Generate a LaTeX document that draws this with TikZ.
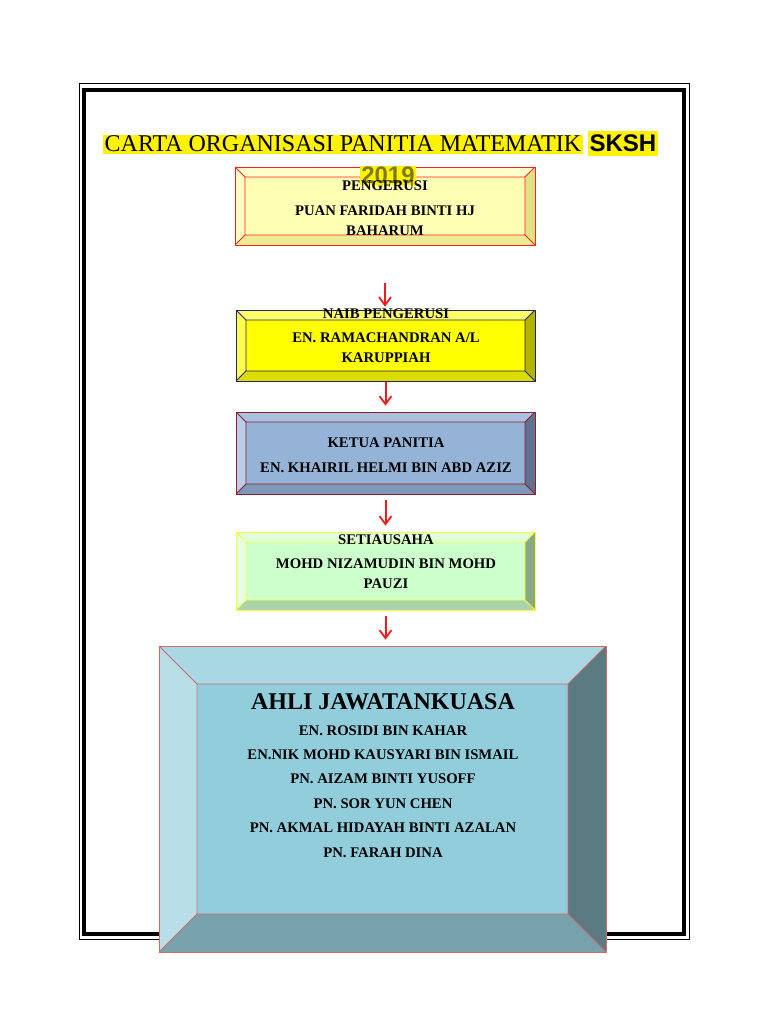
\documentclass[tikz,border=0pt]{standalone}
\usepackage{fontspec}
\setmainfont{Liberation Serif}
\newfontfamily\arialfont{Liberation Sans}
\usetikzlibrary{arrows.meta, positioning, calc}
% one set of bevel colours for each box: top, left, right, bottom, face, line
\definecolor{ptop}{HTML}{FFFFCC}\definecolor{pleft}{HTML}{FFFFC2}\definecolor{pright}{HTML}{E3E185}
\definecolor{pbot}{HTML}{EEEB95}\definecolor{pmid}{HTML}{FFFFB3}\definecolor{pline}{HTML}{FF2020}
\definecolor{ntop}{HTML}{FFFF66}\definecolor{nleft}{HTML}{FFFF4D}\definecolor{nright}{HTML}{B3B300}
\definecolor{nbot}{HTML}{DCDC00}\definecolor{nmid}{HTML}{FFFF00}\definecolor{nline}{HTML}{24246E}
\definecolor{ktop}{HTML}{AAC2E0}\definecolor{kleft}{HTML}{B9CDE6}\definecolor{kright}{HTML}{5F7390}
\definecolor{kbot}{HTML}{7F97B8}\definecolor{kmid}{HTML}{95B3D7}\definecolor{kline}{HTML}{8B2030}
\definecolor{stop}{HTML}{DDFFDD}\definecolor{sleft}{HTML}{E5FFE5}\definecolor{sright}{HTML}{88A888}
\definecolor{sbot}{HTML}{A9D4A9}\definecolor{smid}{HTML}{CCFFCC}\definecolor{sline}{HTML}{FFFF33}
\definecolor{atop}{HTML}{A8D8E3}\definecolor{aleft}{HTML}{B8DEE8}\definecolor{aright}{HTML}{5B7A82}
\definecolor{abot}{HTML}{78A3AE}\definecolor{amid}{HTML}{92CDDC}\definecolor{aline}{HTML}{D06A6A}
\definecolor{cred}{HTML}{EE1C1C}
\definecolor{cyear}{HTML}{5E5A2A}
\tikzset{
  every picture/.style={x=1pt, y=-1pt},
  bevelbox/.style 2 args={rectangle, draw=#1line, fill=#1mid, line width=0.8pt, inner sep=0pt,
    path picture={
      \path (path picture bounding box.north west) coordinate (o1)
            (path picture bounding box.north east) coordinate (o2)
            (path picture bounding box.south east) coordinate (o3)
            (path picture bounding box.south west) coordinate (o4);
      \path ([xshift=#2, yshift=-#2]o1) coordinate (i1) ([xshift=-#2, yshift=-#2]o2) coordinate (i2)
            ([xshift=-#2, yshift=#2]o3) coordinate (i3) ([xshift=#2, yshift=#2]o4) coordinate (i4);
      \fill[#1top] (o1) -- (o2) -- (i2) -- (i1) -- cycle;
      \fill[#1right] (o2) -- (o3) -- (i3) -- (i2) -- cycle;
      \fill[#1bot] (o3) -- (o4) -- (i4) -- (i3) -- cycle;
      \fill[#1left] (o4) -- (o1) -- (i1) -- (i4) -- cycle;
      \draw[#1line, line width=0.8pt] (i1) rectangle (i3) (o1) -- (i1) (o2) -- (i2) (o3) -- (i3) (o4) -- (i4);
    }},
  ptext/.style={font=\bfseries\fontsize{14.7}{20}\selectfont, align=center, anchor=base, inner sep=0pt},
  arrow/.style={-{Straight Barb[length=8pt, width=12pt, line width=1.8pt]}, draw=cred, line width=2pt},
  hl/.style={fill=yellow, inner sep=1.5pt, anchor=base west},
}
\begin{document}
\begin{tikzpicture}
  \useasboundingbox (0,0) rectangle (768,1024);
  % page frame
  \draw[line width=1pt] (79,84) rectangle (689,939);
  \draw[line width=4pt] (84,90) rectangle (684,934);
  \node[hl, font=\fontsize{24}{28}\selectfont] (title) at (103,152) {CARTA ORGANISASI PANITIA MATEMATIK};
  \node[hl, inner ysep=4pt, font=\arialfont\bfseries\fontsize{24}{28}\selectfont] (sksh) at ([xshift=5pt]title.base east) {SKSH};
  % boxes (the base of a text block is its last line)
  \node[bevelbox={p}{10pt}, minimum width=300pt, minimum height=78pt] (peng) at (385,206) {};
  \node[hl, anchor=base, inner sep=1pt, text=cyear, text opacity=0.8, font=\arialfont\bfseries\fontsize{24}{28}\selectfont] (year) at (388,184) {2019};
  \node[ptext] (pengT) at (385,236) {PENGERUSI\\[5pt]PUAN FARIDAH BINTI HJ\\BAHARUM};
  \node[bevelbox={n}{10pt}, minimum width=299pt, minimum height=71pt] (naib) at (385.5,345.5) {};
  \node[ptext] (naibT) at (386,362) {NAIB PENGERUSI\\[4pt]EN. RAMACHANDRAN A/L\\KARUPPIAH};
  \node[bevelbox={k}{10pt}, minimum width=299pt, minimum height=82pt] (ketua) at (385.5,453) {};
  \node[ptext] (ketuaT) at (386,472) {KETUA PANITIA\\[5pt]EN. KHAIRIL HELMI BIN ABD AZIZ};
  \node[bevelbox={s}{10pt}, minimum width=299pt, minimum height=78pt] (setia) at (385.5,571) {};
  \node[ptext] (setiaT) at (386,588) {SETIAUSAHA\\[4pt]MOHD NIZAMUDIN BIN MOHD\\PAUZI};
  \node[bevelbox={a}{38pt}, minimum width=447pt, minimum height=306pt] (ajk) at (382.5,799) {};
  \node[ptext, font=\bfseries\fontsize{24}{28}\selectfont] (ajkT) at (383,709) {AHLI JAWATANKUASA};
  \node[ptext, font=\bfseries\fontsize{14.7}{24.4}\selectfont] (ajkL) at (383,857)
    {EN. ROSIDI BIN KAHAR\\EN.NIK MOHD KAUSYARI BIN ISMAIL\\PN. AIZAM BINTI YUSOFF\\PN. SOR YUN CHEN\\PN. AKMAL HIDAYAH BINTI AZALAN\\PN. FARAH DINA};
  % arrows
  \draw[arrow, shorten <=38pt, shorten >=3pt] (peng.south) -- (peng.south |- naib.north);
  \draw[arrow, shorten <=1pt, shorten >=6pt] (naib.south) -- (naib.south |- ketua.north);
  \draw[arrow, shorten <=6pt, shorten >=6pt] (ketua.south) -- (ketua.south |- setia.north);
  \draw[arrow, shorten <=6pt, shorten >=6pt] (setia.south) -- (setia.south |- ajk.north);
\end{tikzpicture}
\end{document}
